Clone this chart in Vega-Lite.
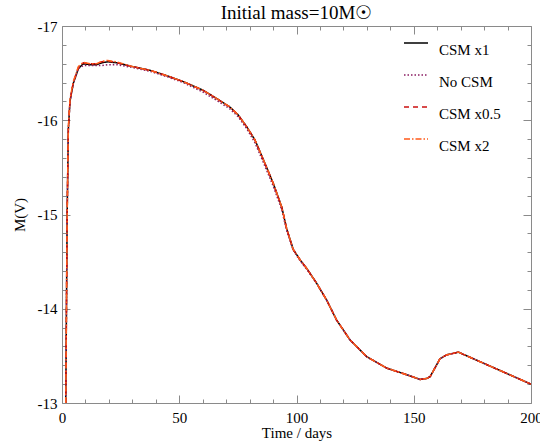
{
  "$schema": "https://vega.github.io/schema/vega-lite/v6.json",
  "width": 469,
  "height": 377,
  "autosize": {"type": "none"},
  "padding": {"left": 62, "top": 26, "right": 9, "bottom": 39},
  "title": {"text": "Initial mass=10M☉", "font": "Liberation Serif", "fontSize": 19, "fontWeight": "normal", "color": "black", "offset": -4, "anchor": "middle"},
  "config": {"view": {"stroke": "#8a8a8a", "strokeWidth": 1}, "font": "Liberation Serif"},
  "datasets": {
    "lc": [
      {"s": "CSM x1", "t": 1.6, "m": -13.0}, {"s": "CSM x1", "t": 1.9, "m": -14.0}, {"s": "CSM x1", "t": 2.2, "m": -15.0}, {"s": "CSM x1", "t": 2.7, "m": -15.9}, {"s": "CSM x1", "t": 3.4, "m": -16.2}, {"s": "CSM x1", "t": 4.8, "m": -16.39}, {"s": "CSM x1", "t": 7.0, "m": -16.55}, {"s": "CSM x1", "t": 9.1, "m": -16.6}, {"s": "CSM x1", "t": 12, "m": -16.59}, {"s": "CSM x1", "t": 14.8, "m": -16.59}, {"s": "CSM x1", "t": 17, "m": -16.61}, {"s": "CSM x1", "t": 19.5, "m": -16.62}, {"s": "CSM x1", "t": 23.3, "m": -16.61}, {"s": "CSM x1", "t": 30, "m": -16.57}, {"s": "CSM x1", "t": 37.5, "m": -16.53}, {"s": "CSM x1", "t": 45, "m": -16.47}, {"s": "CSM x1", "t": 51.7, "m": -16.41}, {"s": "CSM x1", "t": 60, "m": -16.32}, {"s": "CSM x1", "t": 66, "m": -16.23}, {"s": "CSM x1", "t": 71.6, "m": -16.14}, {"s": "CSM x1", "t": 75, "m": -16.06}, {"s": "CSM x1", "t": 78.8, "m": -15.93}, {"s": "CSM x1", "t": 82.3, "m": -15.79}, {"s": "CSM x1", "t": 85.9, "m": -15.58}, {"s": "CSM x1", "t": 90.1, "m": -15.33}, {"s": "CSM x1", "t": 93.7, "m": -15.08}, {"s": "CSM x1", "t": 95.8, "m": -14.85}, {"s": "CSM x1", "t": 98.6, "m": -14.63}, {"s": "CSM x1", "t": 101.5, "m": -14.52}, {"s": "CSM x1", "t": 104.3, "m": -14.43}, {"s": "CSM x1", "t": 108.6, "m": -14.27}, {"s": "CSM x1", "t": 112.9, "m": -14.09}, {"s": "CSM x1", "t": 117.1, "m": -13.88}, {"s": "CSM x1", "t": 122.8, "m": -13.67}, {"s": "CSM x1", "t": 130, "m": -13.49}, {"s": "CSM x1", "t": 138.5, "m": -13.37}, {"s": "CSM x1", "t": 147, "m": -13.3}, {"s": "CSM x1", "t": 152.7, "m": -13.25}, {"s": "CSM x1", "t": 155.5, "m": -13.26}, {"s": "CSM x1", "t": 157, "m": -13.28}, {"s": "CSM x1", "t": 159, "m": -13.37}, {"s": "CSM x1", "t": 161.2, "m": -13.47}, {"s": "CSM x1", "t": 164, "m": -13.51}, {"s": "CSM x1", "t": 169, "m": -13.54}, {"s": "CSM x1", "t": 200, "m": -13.2},

      {"s": "No CSM", "t": 1.6, "m": -13.0}, {"s": "No CSM", "t": 1.9, "m": -14.0}, {"s": "No CSM", "t": 2.2, "m": -15.0}, {"s": "No CSM", "t": 2.7, "m": -15.9}, {"s": "No CSM", "t": 3.4, "m": -16.2}, {"s": "No CSM", "t": 4.8, "m": -16.39}, {"s": "No CSM", "t": 7.0, "m": -16.55}, {"s": "No CSM", "t": 9.1, "m": -16.58}, {"s": "No CSM", "t": 12, "m": -16.58}, {"s": "No CSM", "t": 14.8, "m": -16.58}, {"s": "No CSM", "t": 17, "m": -16.58}, {"s": "No CSM", "t": 19.5, "m": -16.59}, {"s": "No CSM", "t": 23.3, "m": -16.59}, {"s": "No CSM", "t": 30, "m": -16.56}, {"s": "No CSM", "t": 37.5, "m": -16.52}, {"s": "No CSM", "t": 45, "m": -16.46}, {"s": "No CSM", "t": 51.7, "m": -16.4}, {"s": "No CSM", "t": 60, "m": -16.3}, {"s": "No CSM", "t": 66, "m": -16.21}, {"s": "No CSM", "t": 71.6, "m": -16.12}, {"s": "No CSM", "t": 75, "m": -16.04}, {"s": "No CSM", "t": 78.8, "m": -15.91}, {"s": "No CSM", "t": 82.3, "m": -15.76}, {"s": "No CSM", "t": 85.9, "m": -15.55}, {"s": "No CSM", "t": 90.1, "m": -15.3}, {"s": "No CSM", "t": 93.7, "m": -15.05}, {"s": "No CSM", "t": 95.8, "m": -14.83}, {"s": "No CSM", "t": 98.6, "m": -14.62}, {"s": "No CSM", "t": 101.5, "m": -14.51}, {"s": "No CSM", "t": 104.3, "m": -14.42}, {"s": "No CSM", "t": 108.6, "m": -14.27}, {"s": "No CSM", "t": 112.9, "m": -14.09}, {"s": "No CSM", "t": 117.1, "m": -13.88}, {"s": "No CSM", "t": 122.8, "m": -13.67}, {"s": "No CSM", "t": 130, "m": -13.49}, {"s": "No CSM", "t": 138.5, "m": -13.37}, {"s": "No CSM", "t": 147, "m": -13.3}, {"s": "No CSM", "t": 152.7, "m": -13.25}, {"s": "No CSM", "t": 155.5, "m": -13.26}, {"s": "No CSM", "t": 157, "m": -13.28}, {"s": "No CSM", "t": 159, "m": -13.37}, {"s": "No CSM", "t": 161.2, "m": -13.47}, {"s": "No CSM", "t": 164, "m": -13.51}, {"s": "No CSM", "t": 169, "m": -13.54}, {"s": "No CSM", "t": 200, "m": -13.2},

      {"s": "CSM x0.5", "t": 1.6, "m": -13.0}, {"s": "CSM x0.5", "t": 1.9, "m": -14.0}, {"s": "CSM x0.5", "t": 2.2, "m": -15.0}, {"s": "CSM x0.5", "t": 2.7, "m": -15.9}, {"s": "CSM x0.5", "t": 3.4, "m": -16.21}, {"s": "CSM x0.5", "t": 4.8, "m": -16.4}, {"s": "CSM x0.5", "t": 7.0, "m": -16.56}, {"s": "CSM x0.5", "t": 9.1, "m": -16.61}, {"s": "CSM x0.5", "t": 12, "m": -16.6}, {"s": "CSM x0.5", "t": 14.8, "m": -16.6}, {"s": "CSM x0.5", "t": 17, "m": -16.62}, {"s": "CSM x0.5", "t": 19.5, "m": -16.63}, {"s": "CSM x0.5", "t": 23.3, "m": -16.61}, {"s": "CSM x0.5", "t": 30, "m": -16.57}, {"s": "CSM x0.5", "t": 37.5, "m": -16.53}, {"s": "CSM x0.5", "t": 45, "m": -16.47}, {"s": "CSM x0.5", "t": 51.7, "m": -16.41}, {"s": "CSM x0.5", "t": 60, "m": -16.32}, {"s": "CSM x0.5", "t": 66, "m": -16.23}, {"s": "CSM x0.5", "t": 71.6, "m": -16.14}, {"s": "CSM x0.5", "t": 75, "m": -16.06}, {"s": "CSM x0.5", "t": 78.8, "m": -15.93}, {"s": "CSM x0.5", "t": 82.3, "m": -15.79}, {"s": "CSM x0.5", "t": 85.9, "m": -15.58}, {"s": "CSM x0.5", "t": 90.1, "m": -15.33}, {"s": "CSM x0.5", "t": 93.7, "m": -15.08}, {"s": "CSM x0.5", "t": 95.8, "m": -14.85}, {"s": "CSM x0.5", "t": 98.6, "m": -14.63}, {"s": "CSM x0.5", "t": 101.5, "m": -14.52}, {"s": "CSM x0.5", "t": 104.3, "m": -14.43}, {"s": "CSM x0.5", "t": 108.6, "m": -14.27}, {"s": "CSM x0.5", "t": 112.9, "m": -14.09}, {"s": "CSM x0.5", "t": 117.1, "m": -13.88}, {"s": "CSM x0.5", "t": 122.8, "m": -13.67}, {"s": "CSM x0.5", "t": 130, "m": -13.49}, {"s": "CSM x0.5", "t": 138.5, "m": -13.37}, {"s": "CSM x0.5", "t": 147, "m": -13.3}, {"s": "CSM x0.5", "t": 152.7, "m": -13.25}, {"s": "CSM x0.5", "t": 155.5, "m": -13.26}, {"s": "CSM x0.5", "t": 157, "m": -13.28}, {"s": "CSM x0.5", "t": 159, "m": -13.37}, {"s": "CSM x0.5", "t": 161.2, "m": -13.47}, {"s": "CSM x0.5", "t": 164, "m": -13.51}, {"s": "CSM x0.5", "t": 169, "m": -13.54}, {"s": "CSM x0.5", "t": 200, "m": -13.2},

      {"s": "CSM x2", "t": 1.6, "m": -13.0}, {"s": "CSM x2", "t": 1.9, "m": -14.0}, {"s": "CSM x2", "t": 2.2, "m": -15.0}, {"s": "CSM x2", "t": 2.7, "m": -15.92}, {"s": "CSM x2", "t": 3.4, "m": -16.22}, {"s": "CSM x2", "t": 4.8, "m": -16.41}, {"s": "CSM x2", "t": 7.0, "m": -16.57}, {"s": "CSM x2", "t": 9.1, "m": -16.615}, {"s": "CSM x2", "t": 12, "m": -16.6}, {"s": "CSM x2", "t": 14.8, "m": -16.6}, {"s": "CSM x2", "t": 17, "m": -16.625}, {"s": "CSM x2", "t": 19.5, "m": -16.635}, {"s": "CSM x2", "t": 23.3, "m": -16.62}, {"s": "CSM x2", "t": 30, "m": -16.57}, {"s": "CSM x2", "t": 37.5, "m": -16.53}, {"s": "CSM x2", "t": 45, "m": -16.47}, {"s": "CSM x2", "t": 51.7, "m": -16.41}, {"s": "CSM x2", "t": 60, "m": -16.32}, {"s": "CSM x2", "t": 66, "m": -16.23}, {"s": "CSM x2", "t": 71.6, "m": -16.14}, {"s": "CSM x2", "t": 75, "m": -16.06}, {"s": "CSM x2", "t": 78.8, "m": -15.93}, {"s": "CSM x2", "t": 82.3, "m": -15.79}, {"s": "CSM x2", "t": 85.9, "m": -15.58}, {"s": "CSM x2", "t": 90.1, "m": -15.33}, {"s": "CSM x2", "t": 93.7, "m": -15.08}, {"s": "CSM x2", "t": 95.8, "m": -14.85}, {"s": "CSM x2", "t": 98.6, "m": -14.63}, {"s": "CSM x2", "t": 101.5, "m": -14.52}, {"s": "CSM x2", "t": 104.3, "m": -14.43}, {"s": "CSM x2", "t": 108.6, "m": -14.27}, {"s": "CSM x2", "t": 112.9, "m": -14.09}, {"s": "CSM x2", "t": 117.1, "m": -13.88}, {"s": "CSM x2", "t": 122.8, "m": -13.67}, {"s": "CSM x2", "t": 130, "m": -13.49}, {"s": "CSM x2", "t": 138.5, "m": -13.37}, {"s": "CSM x2", "t": 147, "m": -13.3}, {"s": "CSM x2", "t": 152.7, "m": -13.25}, {"s": "CSM x2", "t": 155.5, "m": -13.26}, {"s": "CSM x2", "t": 157, "m": -13.28}, {"s": "CSM x2", "t": 159, "m": -13.37}, {"s": "CSM x2", "t": 161.2, "m": -13.47}, {"s": "CSM x2", "t": 164, "m": -13.51}, {"s": "CSM x2", "t": 169, "m": -13.54}, {"s": "CSM x2", "t": 200, "m": -13.2}
    ]
  },
  "data": {"name": "lc"},
  "resolve": {"axis": {"x": "independent", "y": "independent"}},
  "layer": [
    {
      "mark": {"type": "line", "strokeWidth": 1.5, "clip": true},
      "encoding": {
        "x": {"field": "t", "type": "quantitative", "scale": {"domain": [0, 200], "nice": false, "zero": false},
          "axis": {"orient": "bottom", "values": [0, 50, 100, 150, 200], "labelExpr": "'' + datum.value", "title": "Time / days", "titleFont": "Liberation Serif", "titleFontSize": 15, "titleFontWeight": "normal", "titleColor": "black", "titlePadding": 0, "labelFont": "Liberation Serif", "labelFontSize": 15, "labelColor": "black", "labelPadding": 15, "labelFlush": false, "tickSize": -8, "tickColor": "#8a8a8a", "domain": false, "grid": false}},
        "y": {"field": "m", "type": "quantitative", "scale": {"domain": [-17, -13], "reverse": true, "nice": false, "zero": false},
          "axis": {"orient": "left", "values": [-17, -16, -15, -14, -13], "labelExpr": "'' + datum.value", "title": "M(V)", "titleFont": "Liberation Serif", "titleFontSize": 15, "titleFontWeight": "normal", "titleColor": "black", "titlePadding": 10, "labelFont": "Liberation Serif", "labelFontSize": 15, "labelColor": "black", "labelPadding": 13, "labelFlush": false, "tickSize": -8, "tickColor": "#8a8a8a", "domain": false, "grid": false}},
        "color": {"field": "s", "type": "nominal",
          "scale": {"domain": ["CSM x1", "No CSM", "CSM x0.5", "CSM x2"], "range": ["#000000", "#8b1c62", "#cc1111", "#ff5a1a"]},
          "legend": {"orient": "none", "legendX": 341, "legendY": 4, "title": null, "symbolType": "stroke", "symbolSize": 576, "symbolStrokeWidth": 1.5, "labelFont": "Liberation Serif", "labelFontSize": 15, "labelColor": "black", "labelOffset": 10, "labelBaseline": "top", "rowPadding": 4, "padding": 0}},
        "strokeDash": {"field": "s", "type": "nominal",
          "scale": {"domain": ["CSM x1", "No CSM", "CSM x0.5", "CSM x2"], "range": [[1, 0], [1.5, 2], [5, 4], [6, 2, 1.5, 2]]},
          "legend": {"orient": "none", "legendX": 341, "legendY": 4, "title": null, "symbolType": "stroke", "symbolSize": 576, "symbolStrokeWidth": 1.5, "labelFont": "Liberation Serif", "labelFontSize": 15, "labelColor": "black", "labelOffset": 10, "labelBaseline": "top", "rowPadding": 4, "padding": 0}}
      }
    },
    {
      "mark": {"type": "line", "opacity": 0},
      "encoding": {
        "x": {"field": "t", "type": "quantitative", "scale": {"domain": [0, 200], "nice": false, "zero": false},
          "axis": {"orient": "bottom", "values": [10, 20, 30, 40, 60, 70, 80, 90, 110, 120, 130, 140, 160, 170, 180, 190], "labels": false, "title": null, "tickSize": -4, "tickColor": "#8a8a8a", "domain": false, "grid": false}},
        "y": {"field": "m", "type": "quantitative", "scale": {"domain": [-17, -13], "reverse": true, "nice": false, "zero": false},
          "axis": {"orient": "left", "values": [-16.8, -16.6, -16.4, -16.2, -15.8, -15.6, -15.4, -15.2, -14.8, -14.6, -14.4, -14.2, -13.8, -13.6, -13.4, -13.2], "labels": false, "title": null, "tickSize": -4, "tickColor": "#8a8a8a", "domain": false, "grid": false}}
      }
    },
    {
      "mark": {"type": "line", "opacity": 0},
      "encoding": {
        "x": {"field": "t", "type": "quantitative", "scale": {"domain": [0, 200], "nice": false, "zero": false},
          "axis": {"orient": "top", "values": [0, 50, 100, 150, 200], "labels": false, "title": null, "tickSize": -8, "tickColor": "#8a8a8a", "domain": false, "grid": false}},
        "y": {"field": "m", "type": "quantitative", "scale": {"domain": [-17, -13], "reverse": true, "nice": false, "zero": false},
          "axis": {"orient": "right", "values": [-17, -16, -15, -14, -13], "labels": false, "title": null, "tickSize": -8, "tickColor": "#8a8a8a", "domain": false, "grid": false}}
      }
    },
    {
      "mark": {"type": "line", "opacity": 0},
      "encoding": {
        "x": {"field": "t", "type": "quantitative", "scale": {"domain": [0, 200], "nice": false, "zero": false},
          "axis": {"orient": "top", "values": [10, 20, 30, 40, 60, 70, 80, 90, 110, 120, 130, 140, 160, 170, 180, 190], "labels": false, "title": null, "tickSize": -4, "tickColor": "#8a8a8a", "domain": false, "grid": false}},
        "y": {"field": "m", "type": "quantitative", "scale": {"domain": [-17, -13], "reverse": true, "nice": false, "zero": false},
          "axis": {"orient": "right", "values": [-16.8, -16.6, -16.4, -16.2, -15.8, -15.6, -15.4, -15.2, -14.8, -14.6, -14.4, -14.2, -13.8, -13.6, -13.4, -13.2], "labels": false, "title": null, "tickSize": -4, "tickColor": "#8a8a8a", "domain": false, "grid": false}}
      }
    }
  ]
}
